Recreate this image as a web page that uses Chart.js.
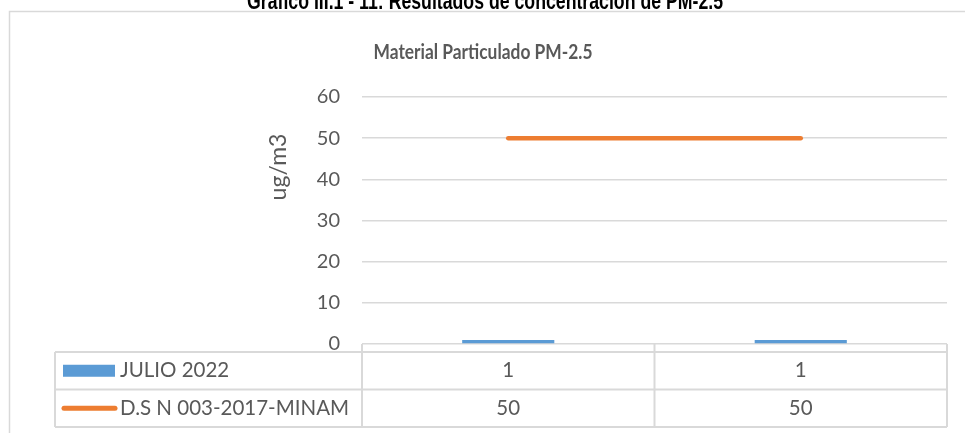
<!DOCTYPE html>
<html>
<head>
<meta charset="utf-8">
<script src="https://cdn.jsdelivr.net/npm/chart.js@4"></script>
<style>
  html, body { margin: 0; padding: 0; background: #fff; }
  #wrap { position: relative; width: 965px; height: 433px; }
</style>
</head>
<body>
<div id="wrap"><canvas id="pmChart" width="965" height="433"></canvas></div>
<script>
// Datos del grafico
const categorias = ['1', '2'];
const julio2022 = [1, 1];
const limiteMinam = [50, 50];
const nombreSerie1 = 'JULIO 2022';
const nombreSerie2 = 'D.S N 003-2017-MINAM';
const tituloSuperior = 'Gráfico III.1 - 11: Resultados de concentración de PM-2.5';
const tituloGrafico = 'Material Particulado PM-2.5';
const tituloEjeY = 'ug/m3';

const GRIS = '#d9d9d9';
const TEXTO = '#595959';
const AZUL = '#5b9bd5';
const NARANJA = '#ed7d31';
const FUENTE = 'Lato, "Open Sans", sans-serif';

// texto comprimido horizontalmente a un ancho dado (Calibri es mas estrecha)
function textoAncho(ctx, texto, x, y, ancho) {
    const w = ctx.measureText(texto).width;
    ctx.save();
    ctx.translate(x, y);
    ctx.scale(ancho / w, 1);
    ctx.textAlign = 'center';
    ctx.fillText(texto, 0, 0);
    ctx.restore();
}

// Plugin para titulos, marco y tabla de datos (estilo Excel)
const tablaPlugin = {
    id: 'tablaDatos',
    afterDraw(chart) {
        const ctx = chart.ctx;
        const area = chart.chartArea;
        const xs = chart.scales.x;
        ctx.save();

        // marco del grafico
        ctx.strokeStyle = GRIS;
        ctx.lineWidth = 1.5;
        ctx.beginPath();
        ctx.moveTo(9.5, 440);
        ctx.lineTo(9.5, 11.5);
        ctx.lineTo(970, 11.5);
        ctx.stroke();

        // titulo superior (cortado)
        ctx.fillStyle = '#000';
        ctx.font = 'bold 24px "Liberation Sans", Arial, sans-serif';
        ctx.textBaseline = 'alphabetic';
        textoAncho(ctx, tituloSuperior, 485, 8.5, 476);

        // titulo del grafico
        ctx.fillStyle = TEXTO;
        ctx.font = 'bold 21px ' + FUENTE;
        ctx.textBaseline = 'middle';
        textoAncho(ctx, tituloGrafico, 483, 52, 219);

        // titulo eje Y
        ctx.save();
        ctx.translate(279, 167);
        ctx.rotate(-Math.PI / 2);
        ctx.textAlign = 'center';
        ctx.font = '23px ' + FUENTE;
        ctx.fillText(tituloEjeY, 0, 0);
        ctx.restore();

        // tabla
        const top = area.bottom + 8;
        const fila = 37.5;
        const izq = 55;
        const der = area.right;
        ctx.strokeStyle = GRIS;
        ctx.lineWidth = 2;
        ctx.beginPath();
        for (let r = 0; r <= 2; r++) {
            ctx.moveTo(izq, top + r * fila);
            ctx.lineTo(der, top + r * fila);
        }
        ctx.moveTo(izq, top);
        ctx.lineTo(izq, top + 2 * fila);
        const anchoCat = (xs.getPixelForValue(1) - xs.getPixelForValue(0));
        const bordes = [area.left];
        categorias.forEach((c, i) => bordes.push(xs.getPixelForValue(i) + anchoCat / 2));
        bordes.forEach(x => {
            ctx.moveTo(x, area.bottom);
            ctx.lineTo(x, top + 2 * fila);
        });
        ctx.stroke();

        const y1 = top + fila / 2;
        const y2 = top + fila * 1.5;

        // claves de leyenda
        ctx.fillStyle = AZUL;
        ctx.fillRect(63, y1 - 6, 52, 12);
        ctx.strokeStyle = NARANJA;
        ctx.lineWidth = 5;
        ctx.lineCap = 'round';
        ctx.beginPath();
        ctx.moveTo(64, y2);
        ctx.lineTo(115, y2);
        ctx.stroke();

        ctx.fillStyle = TEXTO;
        ctx.font = '20.5px ' + FUENTE;
        ctx.textAlign = 'left';
        ctx.fillText(nombreSerie1, 120, y1);
        ctx.fillText(nombreSerie2, 120, y2);

        ctx.textAlign = 'center';
        categorias.forEach((c, i) => {
            const x = xs.getPixelForValue(i);
            ctx.fillText(String(julio2022[i]), x, y1);
            ctx.fillText(String(limiteMinam[i]), x, y2);
        });
        ctx.restore();
    }
};

new Chart(document.getElementById('pmChart'), {
    type: 'bar',
    data: {
        labels: categorias,
        datasets: [
            {
                type: 'line',
                label: nombreSerie2,
                data: limiteMinam,
                borderColor: NARANJA,
                backgroundColor: NARANJA,
                borderWidth: 4.5,
                borderCapStyle: 'round',
                pointRadius: 0,
                order: 0
            },
            {
                label: nombreSerie1,
                data: julio2022,
                backgroundColor: AZUL,
                barPercentage: 0.315,
                categoryPercentage: 1,
                order: 1
            }
        ]
    },
    options: {
        responsive: false,
        animation: false,
        layout: {
            padding: { top: 97, bottom: 89, left: 0, right: 18 }
        },
        plugins: {
            legend: { display: false },
            tooltip: { enabled: false }
        },
        scales: {
            x: {
                display: false
            },
            y: {
                min: 0,
                max: 60,
                ticks: {
                    stepSize: 10,
                    color: TEXTO,
                    padding: 22,
                    font: { family: FUENTE, size: 20 }
                },
                grid: {
                    color: GRIS,
                    lineWidth: 1.5,
                    drawTicks: false
                },
                border: { display: false },
                afterFit(scale) {
                    scale.width = 362;
                }
            }
        }
    },
    plugins: [tablaPlugin]
});
</script>
</body>
</html>
